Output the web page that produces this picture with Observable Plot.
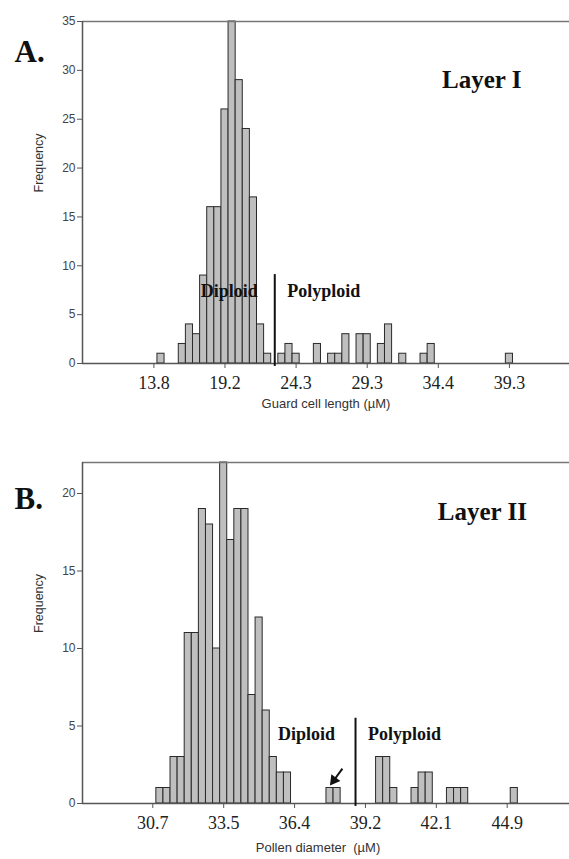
<!DOCTYPE html>
<html><head><meta charset="utf-8">
<script src="https://cdn.jsdelivr.net/npm/d3@7"></script>
<script src="https://cdn.jsdelivr.net/npm/@observablehq/plot@0.6"></script>
<style>
body{margin:0;background:#fff;}
#chart svg{display:block;overflow:visible}
</style>
</head><body><div id="chart"></div>
<script>
// ---- Panel A: guard cell length (bin index -> frequency) ----
const binA   = [1, 4, 5, 6, 7, 8, 9, 10, 11, 12, 13, 14, 15, 16, 18, 19, 20, 23, 25, 26, 27, 29, 30, 32, 33, 35, 38, 39, 50];
const countA = [1, 2, 4, 3, 9, 16, 16, 26, 35, 29, 24, 17, 4, 1, 1, 2, 1, 2, 1, 1, 3, 3, 3, 2, 4, 1, 1, 2, 1];
const tickBinsA   = [0, 10, 20, 30, 40, 50];
const tickLabelsA = ["13.8", "19.2", "24.3", "29.3", "34.4", "39.3"];
const yTicksA = [0, 5, 10, 15, 20, 25, 30, 35];

// ---- Panel B: pollen diameter (bin index -> frequency) ----
const binB   = [1, 2, 3, 4, 5, 6, 7, 8, 9, 10, 11, 12, 13, 14, 15, 16, 17, 18, 19, 25, 26, 32, 33, 34, 37, 38, 39, 42, 43, 44, 51];
const countB = [1, 1, 3, 3, 11, 11, 19, 18, 10, 22, 17, 19, 19, 7, 12, 6, 3, 2, 2, 1, 1, 3, 3, 1, 1, 2, 2, 1, 1, 1, 1];
const tickBinsB   = [0, 10, 20, 30, 40, 50];
const tickLabelsB = ["30.7", "33.5", "36.4", "39.2", "42.1", "44.9"];
const yTicksB = [0, 5, 10, 15, 20];

const SANS = "'Liberation Sans', Arial, sans-serif";
const SERIF = "'Liberation Serif', 'Times New Roman', serif";

function panel(o) {
  const data = o.bins.map((b, i) => ({bin: b, count: o.counts[i]}));
  const fmt = d => o.tickLabels[o.tickBins.indexOf(d)];
  const marks = [
    Plot.rectY(data, {x1: d => d.bin - 0.5, x2: d => d.bin + 0.5, y: "count",
      fill: "#bfbfbf", stroke: "#2a2a2a", strokeWidth: 1}),
    Plot.ruleY([o.yDomain[1]], {stroke: "#777", strokeWidth: 1.5}),
    Plot.ruleX([o.xDomain[0]], {stroke: "#555", strokeWidth: 1.5}),
    Plot.ruleY([0], {stroke: "#555", strokeWidth: 1.5}),
    Plot.axisY({ticks: o.yTicks, tickSize: 5, tickPadding: 2, fontSize: 12,
      fontFamily: SANS, fill: "#444", stroke: "#555", label: null}),
    Plot.axisX({ticks: o.tickBins, tickFormat: fmt, tickSize: 5, tickPadding: 8,
      fontSize: 18, fontFamily: SERIF, fill: "#222", stroke: "#555", label: null}),
    // divider line between diploid and polyploid
    Plot.ruleX([o.divider], {x: d => d.x, y1: -0.3 * o.yDomain[1] / 35, y2: d => d.y,
      stroke: "#111", strokeWidth: 2}),
    Plot.text(["Diploid"], {x: o.dipPos[0], y: o.dipPos[1], fontFamily: SERIF, fontWeight: "bold",
      fontSize: 18, fill: "#111", lineAnchor: "bottom"}),
    Plot.text(["Polyploid"], {x: o.polyPos[0], y: o.polyPos[1], fontFamily: SERIF, fontWeight: "bold",
      fontSize: 18, fill: "#111", lineAnchor: "bottom"}),
    Plot.text([o.layer], {x: o.layerPos[0], y: o.layerPos[1], fontFamily: SERIF, fontWeight: "bold",
      fontSize: 25, fill: "#111", lineAnchor: "bottom"}),
    Plot.text([o.letter], {frameAnchor: "top-left", dx: -68, dy: o.letterDy, textAnchor: "start",
      lineAnchor: "bottom", fontFamily: SERIF, fontWeight: "bold", fontSize: 31, fill: "#111"}),
    Plot.text(["Frequency"], {frameAnchor: "left", dx: -43.5, rotate: -90, fontFamily: SANS,
      fontSize: 12.5, fill: "#333"}),
    Plot.text([o.xLabel], {frameAnchor: "bottom", dx: o.xLabelDx, dy: o.xLabelDy, lineAnchor: "bottom",
      fontFamily: SANS, fontSize: 13, fill: "#333"})
  ];
  if (o.arrow) {
    marks.push(Plot.link([o.arrow], {x1: "x1", y1: "y1", x2: "x2", y2: "y2",
      stroke: "#111", strokeWidth: 2}));
    marks.push(Plot.dot([o.arrow], {x: "x2", y: "y2", symbol: "triangle", r: 4.2,
      fill: "#111", stroke: "none", rotate: 217}));
  }
  return Plot.plot({
    width: 569, height: o.height,
    marginTop: o.marginTop, marginBottom: o.marginBottom, marginLeft: 82, marginRight: 0,
    x: {domain: o.xDomain, axis: null},
    y: {domain: o.yDomain, axis: null},
    style: {background: "#fff", overflow: "visible"},
    marks
  });
}

const chartA = panel({
  bins: binA, counts: countA, tickBins: tickBinsA, tickLabels: tickLabelsA, yTicks: yTicksA,
  height: 430, marginTop: 21, marginBottom: 67,
  xDomain: [-10.04, 58.45], yDomain: [0, 35],
  divider: {x: 17, y: 9.1},
  dipPos: [10.6, 6.8], polyPos: [23.9, 6.8], layer: "Layer I", layerPos: [46.1, 28.2],
  letter: "A.", letterDy: 40,
  xLabel: "Guard cell length (µM)", xLabelDx: 0, xLabelDy: 44
});
const chartB = panel({
  bins: binB, counts: countB, tickBins: tickBinsB, tickLabels: tickLabelsB, yTicks: yTicksB,
  height: 429, marginTop: 32, marginBottom: 56,
  xDomain: [-9.92, 58.79], yDomain: [0, 22],
  divider: {x: 28.6, y: 5.5},
  dipPos: [21.7, 4.1], polyPos: [35.5, 4.1], layer: "Layer II", layerPos: [46.5, 18.3],
  letter: "B.", letterDy: 46,
  xLabel: "Pollen diameter  (µM)", xLabelDx: -8, xLabelDy: 48,
  arrow: {x1: 26.75, y1: 2.25, x2: 25.55, y2: 1.5}
});
document.getElementById("chart").append(chartA, chartB);
</script>
</body></html>
